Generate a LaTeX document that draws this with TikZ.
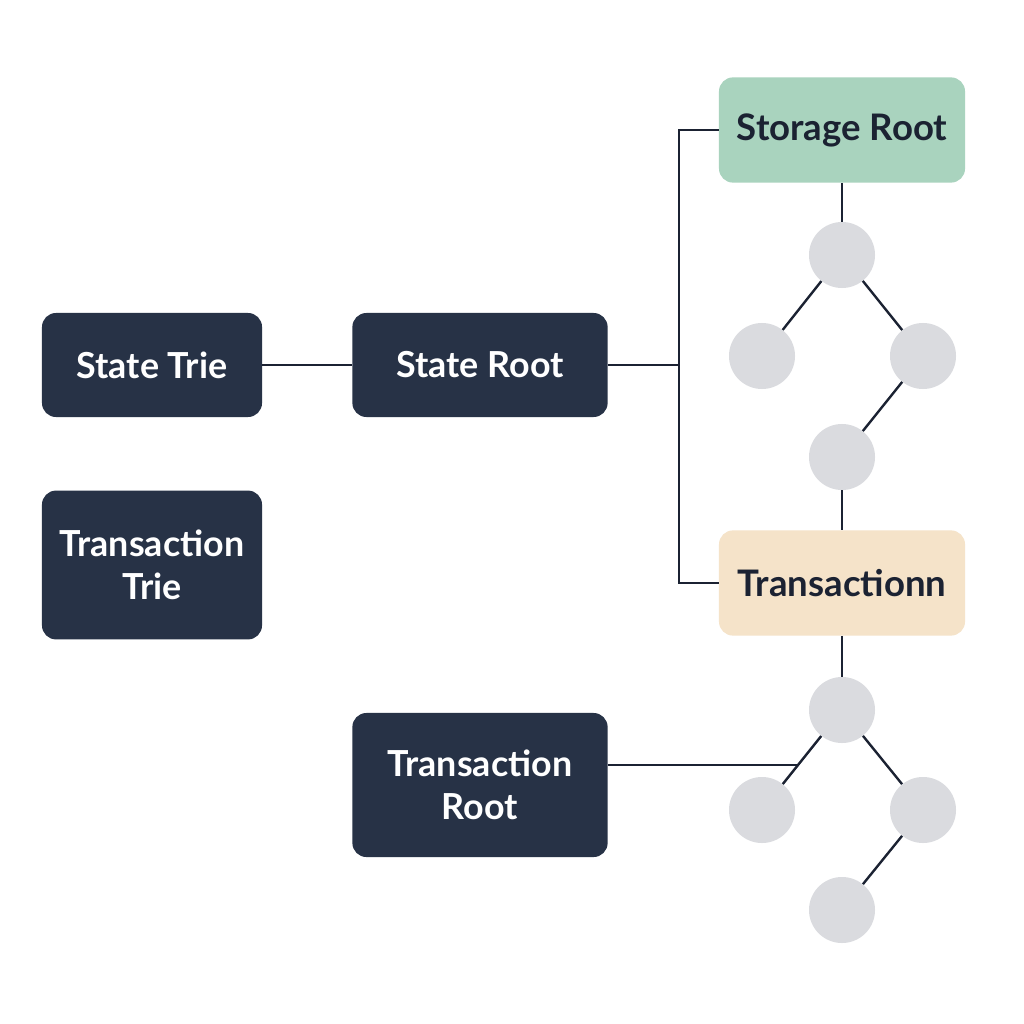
\documentclass[tikz,border=0pt]{standalone}
\usepackage{fontspec}
\setmainfont{Lato}
\usepackage{tikz}
\usetikzlibrary{positioning}
\definecolor{boxnavy}{HTML}{273246}
\definecolor{inkdark}{HTML}{1B2232}
\definecolor{storegreen}{HTML}{A9D3BE}
\definecolor{txnbeige}{HTML}{F5E3C9}
\definecolor{leafgray}{HTML}{DADBDF}
\tikzstyle{trie} = [fill=boxnavy, text=white, align=center, rounded corners=10pt, font=\fontsize{25.5}{31}\selectfont\bfseries]
\tikzstyle{rootbox} = [align=center, rounded corners=10pt, text=inkdark, font=\fontsize{26}{31}\selectfont\bfseries, minimum width=6.15cm, minimum height=2.63cm]
\tikzstyle{leaf} = [circle, fill=leafgray, minimum size=1.65cm, inner sep=0pt]
\tikzstyle{wire} = [draw=inkdark, line width=1.7pt]

\begin{document}
\begin{tikzpicture}[x=0.025cm,y=-0.025cm]
\useasboundingbox[fill=white] (0,0) rectangle (1024,1024);
\node[trie, minimum width=5.5cm, minimum height=2.6cm] (statetrie) at (152,365) {State Trie};
\node[trie, minimum width=5.5cm, minimum height=3.72cm] (txtrie) at (152,565) {Transaction\\Trie};
\node[trie, minimum width=6.38cm, minimum height=2.6cm] (stateroot) at (480,365) {State Root};
\node[trie, minimum width=6.38cm, minimum height=3.6cm] (txroot) at (480,785) {Transaction\\Root};
\node[rootbox, fill=storegreen] (storage) at (842,130) {Storage Root};
\node[rootbox, fill=txnbeige] (txn) at (842,583) {Transactionn};
% storage trie
\node[leaf] (s1) at (842,255) {};
\node[leaf] (s2) at (762,356) {};
\node[leaf] (s3) at (923,356) {};
\node[leaf] (s4) at (842,457) {};
% transaction trie
\node[leaf] (t1) at (842,710) {};
\node[leaf] (t2) at (762,810) {};
\node[leaf] (t3) at (923,810) {};
\node[leaf] (t4) at (842,910) {};
\coordinate (bus) at (679,365);
\coordinate (txjoin) at (797,765);
\draw[wire] (statetrie) -- (stateroot);
\draw[wire] (stateroot) -- (bus);
\draw[wire] (bus) |- (storage);
\draw[wire] (bus) |- (txn);
\draw[wire] (storage) -- (s1);
\draw[wire] (s1) -- (s2);
\draw[wire] (s1) -- (s3);
\draw[wire] (s3) -- (s4);
\draw[wire] (s4) -- (txn);
\draw[wire] (txn) -- (t1);
\draw[wire] (t1) -- (t2);
\draw[wire] (t1) -- (t3);
\draw[wire] (t3) -- (t4);
\draw[wire] (txroot.east |- txjoin) -- (txjoin);
\end{tikzpicture}
\end{document}
